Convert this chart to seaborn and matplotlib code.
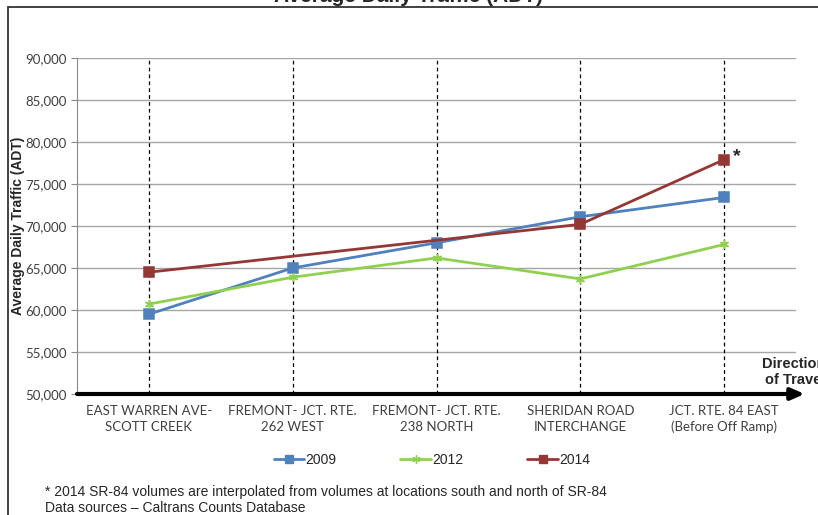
import numpy as np
import pandas as pd
import seaborn as sns
import matplotlib.pyplot as plt
from matplotlib.patches import Rectangle
from matplotlib.ticker import FuncFormatter

locations = [
    "EAST WARREN AVE-\nSCOTT CREEK",
    "FREMONT- JCT. RTE.\n262 WEST",
    "FREMONT- JCT. RTE.\n238 NORTH",
    "SHERIDAN ROAD\nINTERCHANGE",
    "JCT. RTE. 84 EAST\n(Before Off Ramp)",
]
years = ["2009", "2012", "2014"]
adt_2009 = [59500, 65000, 68000, 71100, 73400]
adt_2012 = [60700, 63900, 66200, 63700, 67800]
adt_2014 = [64500, np.nan, np.nan, 70200, 77900]

colors = {"2009": "#4F81BD", "2012": "#8FD14F", "2014": "#953735"}
markers = {"2009": "s", "2012": (6, 2, 0), "2014": "s"}

rows = []
for yr, vals in zip(years, [adt_2009, adt_2012, adt_2014]):
    for i, v in enumerate(vals):
        rows.append({"loc": i, "year": yr, "adt": v})
df = pd.DataFrame(rows).dropna()

sns.set_style("white")
plt.rcParams["font.family"] = ["Liberation Sans", "DejaVu Sans"]

fig = plt.figure(figsize=(8.18, 5.15), dpi=100)
ax = fig.add_axes([77 / 818, 1 - 394 / 515, 719 / 818, 336 / 515])

ax.set_ylim(50000, 90000)
ax.set_xlim(-0.5, 4.5)
ax.set_yticks(range(50000, 90001, 5000))
ax.yaxis.grid(True, color="#A6A6A6", lw=1.0)
ax.set_axisbelow(True)

# dashed vertical guides at each location
ax.vlines(range(len(locations)), 50000, 90000, colors="black",
          linestyles=(0, (3, 2.5)), lw=0.9, zorder=1)

for yr in years:
    sub = df[df["year"] == yr]
    sns.lineplot(data=sub, x="loc", y="adt", color=colors[yr],
                 marker=markers[yr], lw=2.0, markersize=6.5,
                 markeredgewidth=1.1, markeredgecolor=colors[yr],
                 ax=ax, zorder=3)

ax.set_xticks(range(len(locations)))
ax.set_xticklabels(locations, fontsize=9.5, color="#404040",
                   family=["Lato", "DejaVu Sans"], linespacing=1.35)
ax.tick_params(axis="x", length=0, pad=8)
ax.tick_params(axis="y", length=4, color="#888888", left=True,
               labelsize=9.5, labelcolor="#404040")
for lab in ax.get_yticklabels():
    lab.set_family(["Lato", "DejaVu Sans"])
ax.yaxis.set_major_formatter(FuncFormatter(lambda v, p: f"{int(v):,}"))
ax.set_xlabel("")
ax.set_ylabel("Average Daily Traffic (ADT)", fontsize=10, fontweight="bold")
ax.yaxis.set_label_coords(-0.072, 0.5)

for s in ["top", "right", "bottom"]:
    ax.spines[s].set_visible(False)
ax.spines["left"].set_color("#888888")

# bottom axis drawn as a thick arrow
ax.annotate("", xy=(1.012, 0), xytext=(0, 0), xycoords="axes fraction",
            arrowprops=dict(arrowstyle="-|>,head_length=0.8,head_width=0.35",
                            color="black", lw=3, shrinkA=0, shrinkB=0),
            annotation_clip=False)

ax.text(4.06, 78300, "*", fontsize=14, fontweight="bold", va="center")

fig.text(762 / 818, 1 - 357 / 515, "Direction\nof Travel", fontsize=10.5,
         fontweight="bold", ha="left", va="top", multialignment="right",
         linespacing=1.15)

fig.text(0.5, 0.997, "Average Daily Traffic (ADT)", fontsize=15,
         fontweight="bold", ha="center", va="baseline")

fig.patches.append(Rectangle((8 / 818, -0.1), 2, 1.1 - 7 / 515, fill=False,
                             lw=1.3, ec="#333333", transform=fig.transFigure))

handles = [plt.Line2D([], [], color=colors[y], marker=markers[y], lw=2.0,
                      markersize=6, markeredgecolor=colors[y]) for y in years]
fig.legend(handles, years, loc="center", bbox_to_anchor=(0.528, 1 - 460 / 515),
           ncol=3, frameon=False, fontsize=10, handlelength=2.2,
           handletextpad=0.1, columnspacing=4.6)

fig.text(45 / 818, 1 - 492 / 515,
         "* 2014 SR-84 volumes are interpolated from volumes at locations south and north of SR-84",
         fontsize=10, va="center")
fig.text(45 / 818, 1 - 508 / 515, "Data sources \u2013 Caltrans Counts Database",
         fontsize=10, va="center")

fig.savefig("out.png", dpi=100)
